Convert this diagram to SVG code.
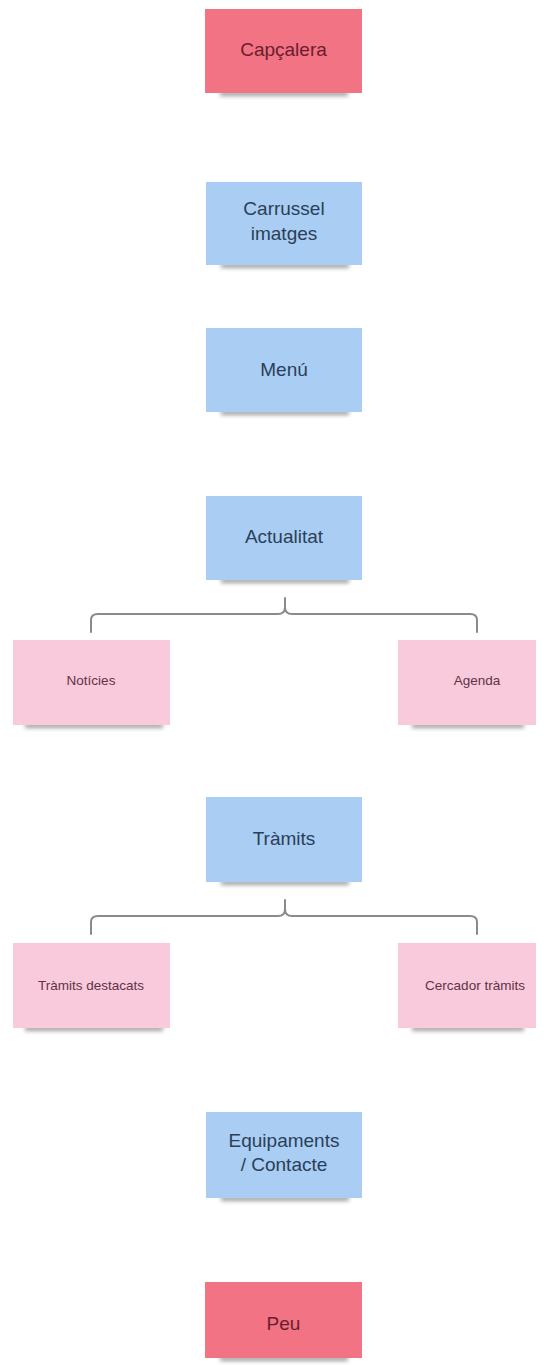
<svg xmlns="http://www.w3.org/2000/svg" width="544" height="1365" viewBox="0 0 544 1365">
<defs>
<filter id="blur" x="-20%" y="-100%" width="140%" height="300%"><feGaussianBlur stdDeviation="2"/></filter>
<style>
.red{fill:#f27383}
.blue{fill:#a9cdf3}
.pink{fill:#f9c9dc}
.sh{fill:#555;opacity:0.55;filter:url(#blur)}
.t{font-family:"Liberation Sans",Arial,sans-serif;text-anchor:middle}
.tb{font-size:19px;fill:#2b3f58}
.tr{font-size:19px;fill:#6a1d2e}
.tp{font-size:13.5px;fill:#5e3346}
.br{fill:none;stroke:#8a8a8a;stroke-width:2;stroke-linecap:round}
</style>
</defs>
<rect width="544" height="1365" fill="#ffffff"/>
<g id="connectors">
<path class="br" d="M91,632 V620 Q91,614 98,614 H278 Q285,614 285,607 V598 M285,607 Q285,614 292,614 H470 Q477,614 477,620 V632"/>
<path class="br" d="M91,934 V922 Q91,916 98,916 H278 Q285,916 285,909 V900 M285,909 Q285,916 292,916 H470 Q477,916 477,922 V934"/>
</g>
<g id="capcalera">
<rect class="sh" x="220" y="91" width="128" height="5"/>
<rect class="red" x="205" y="9" width="157" height="84"/>
<text class="t tr" x="283.5" y="56">Capçalera</text>
</g>
<g id="carrussel">
<rect class="sh" x="221" y="263" width="128" height="5"/>
<rect class="blue" x="206" y="182" width="156" height="83"/>
<text class="t tb" x="284" y="215">Carrussel</text>
<text class="t tb" x="284" y="240">imatges</text>
</g>
<g id="menu">
<rect class="sh" x="221" y="410" width="128" height="5"/>
<rect class="blue" x="206" y="328" width="156" height="84"/>
<text class="t tb" x="284" y="376">Menú</text>
</g>
<g id="actualitat">
<rect class="sh" x="221" y="578" width="128" height="5"/>
<rect class="blue" x="206" y="496" width="156" height="84"/>
<text class="t tb" x="284" y="543">Actualitat</text>
</g>
<g id="noticies">
<rect class="sh" x="25" y="723" width="138" height="5"/>
<rect class="pink" x="13" y="640" width="157" height="85"/>
<text class="t tp" x="91" y="685">Notícies</text>
</g>
<g id="agenda">
<rect class="sh" x="412" y="723" width="112" height="5"/>
<rect class="pink" x="398" y="640" width="138" height="85"/>
<text class="t tp" x="477" y="685">Agenda</text>
</g>
<g id="tramits">
<rect class="sh" x="221" y="880" width="128" height="5"/>
<rect class="blue" x="206" y="797" width="156" height="85"/>
<text class="t tb" x="284" y="845">Tràmits</text>
</g>
<g id="tramits-destacats">
<rect class="sh" x="25" y="1026" width="138" height="5"/>
<rect class="pink" x="13" y="943" width="157" height="85"/>
<text class="t tp" x="91" y="990">Tràmits destacats</text>
</g>
<g id="cercador-tramits">
<rect class="sh" x="412" y="1026" width="112" height="5"/>
<rect class="pink" x="398" y="943" width="138" height="85"/>
<text class="t tp" x="475" y="990">Cercador tràmits</text>
</g>
<g id="equipaments">
<rect class="sh" x="221" y="1196" width="128" height="5"/>
<rect class="blue" x="206" y="1112" width="156" height="86"/>
<text class="t tb" x="284" y="1147">Equipaments</text>
<text class="t tb" x="284" y="1171">/ Contacte</text>
</g>
<g id="peu">
<rect class="sh" x="220" y="1356" width="128" height="5"/>
<rect class="red" x="205" y="1282" width="157" height="76"/>
<text class="t tr" x="283.5" y="1330">Peu</text>
</g>
</svg>
